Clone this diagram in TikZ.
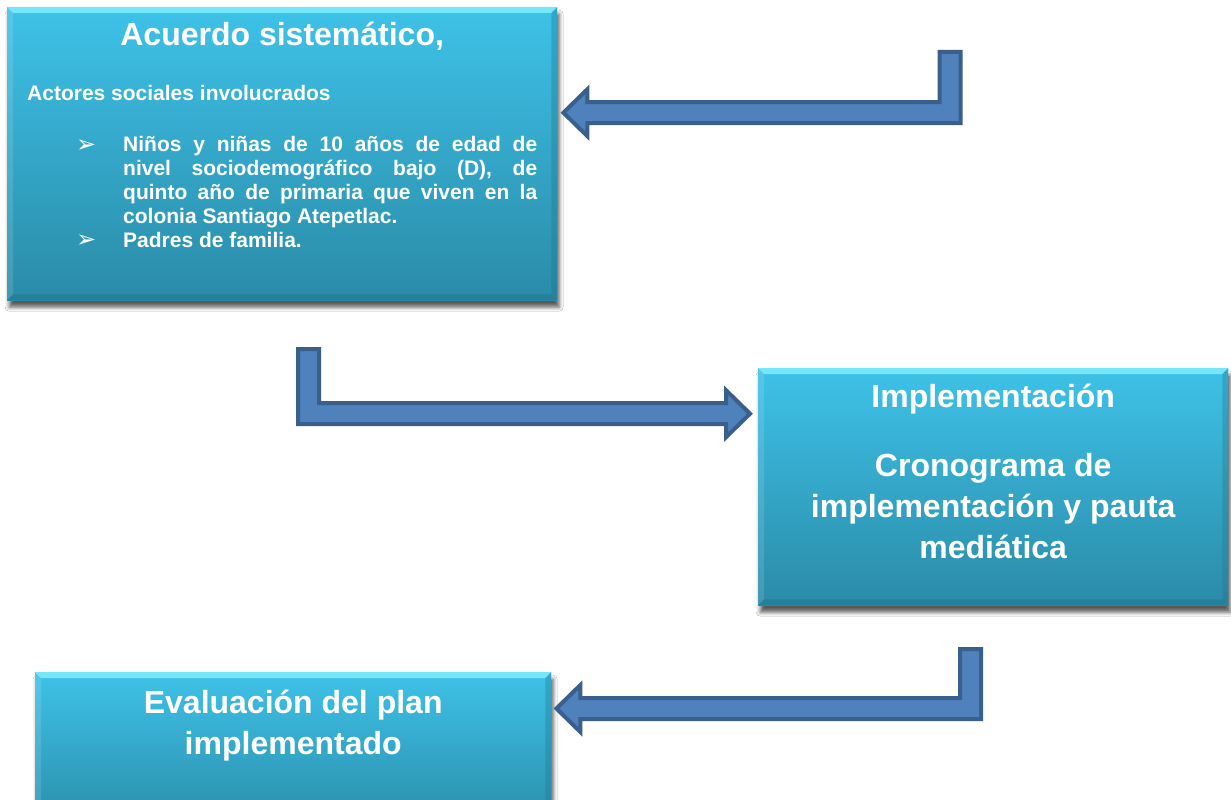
\documentclass[tikz,border=0pt]{standalone}
\usepackage{fontspec}
\setmainfont{Liberation Sans}
\newfontfamily\symbolfont{DejaVu Sans}
\usetikzlibrary{calc,shadows.blur}

\definecolor{boxtop}{HTML}{3EC2E8}
\definecolor{boxbot}{HTML}{2A8BA8}
\definecolor{bevlight}{HTML}{80EEFC}
\definecolor{bevdark}{HTML}{22768F}
\definecolor{arrowfill}{HTML}{4F81BD}
\definecolor{arrowline}{HTML}{3A5F8C}

\tikzset{
  stagebox/.style={rectangle, anchor=north west, inner sep=0pt, top color=boxtop, bottom color=boxbot,
    blur shadow={shadow xshift=2pt, shadow yshift=-7pt, shadow blur radius=4pt, shadow opacity=65}},
  headtext/.style={text=white, font=\fontsize{32}{41}\selectfont\bfseries, inner sep=0pt},
  bodytext/.style={text=white, font=\fontsize{21}{24}\selectfont\bfseries, inner sep=0pt},
  bullettext/.style={text=white, font=\symbolfont\fontsize{24}{24}\selectfont, inner sep=0pt},
  blockarrow/.style={fill=arrowfill, draw=arrowline, line width=4pt, line join=miter},
}

% bevelled edges of a box
\newcommand{\bevel}[1]{%
  \fill[bevlight, opacity=.85] (#1.north west) -- (#1.north east) -- ($(#1.north east)+(-6,6)$) -- ($(#1.north west)+(6,6)$) -- cycle;
  \fill[white, opacity=.12] (#1.north west) -- ($(#1.north west)+(6,6)$) -- ($(#1.south west)+(6,-6)$) -- (#1.south west) -- cycle;
  \fill[bevdark, opacity=.35] (#1.north east) -- (#1.south east) -- ($(#1.south east)+(-6,-6)$) -- ($(#1.north east)+(-6,6)$) -- cycle;
  \fill[bevdark, opacity=.5] (#1.south west) -- (#1.south east) -- ($(#1.south east)+(-6,-6)$) -- ($(#1.south west)+(6,-6)$) -- cycle;
}

% bent block arrow: tail, bend, tip, sign (1 = pointing left, -1 = pointing right)
\newcommand{\shaft}{10.5}
\newcommand{\headw}{23.5}
\newcommand{\headl}{24}
\newcommand{\bentarrow}[4]{%
  \draw[blockarrow] ($(#1)+({#4*\shaft},0)$) -- ($(#2)+({#4*\shaft},\shaft)$) -- ($(#3)+({#4*\headl},\shaft)$)
    -- ($(#3)+({#4*\headl},\headw)$) -- (#3) -- ($(#3)+({#4*\headl},-\headw)$) -- ($(#3)+({#4*\headl},-\shaft)$)
    -- ($(#2)+({-#4*\shaft},-\shaft)$) -- ($(#1)+({-#4*\shaft},0)$) -- cycle;
}

\begin{document}
\begin{tikzpicture}[x=1pt,y=-1pt]
  \useasboundingbox (0,0) rectangle (1231,800);
  \fill[white] (0,0) rectangle (1231,800);
  \clip (0,0) rectangle (1231,800);

  \node[stagebox, minimum width=550pt, minimum height=293pt] (b1) at (7,7) {};
  \node[stagebox, minimum width=470pt, minimum height=237pt] (b2) at (758,368) {};
  \node[stagebox, minimum width=516pt, minimum height=160pt] (b3) at (35,672) {};
  \bevel{b1}
  \bevel{b2}
  \bevel{b3}

  \node[headtext, anchor=base] (t1) at ($(b1.north)+(0,39)$) {Acuerdo sistemático,};
  \node[bodytext, anchor=base west] (t2) at ($(b1.north west)+(20,93)$) {Actores sociales involucrados};
  \node[bullettext, anchor=base west] (k1) at ($(b1.north west)+(69,145)$) {➢};
  \node[bullettext, anchor=base west] (k2) at ($(b1.north west)+(69,240)$) {➢};
  \node[bodytext, anchor=north west, text width=414pt, align=justify] (l1) at ($(b1.north west)+(116,127.2)$)
    {\hyphenpenalty=10000\emergencystretch=3em\strut Niños y niñas de 10 años de edad de\linebreak
     nivel sociodemográfico bajo (D), de\linebreak quinto año de primaria que viven en la\linebreak
     colonia Santiago Atepetlac.\par Padres de familia.};

  \node[headtext, anchor=base] (t3) at ($(b2.north)+(0,39)$) {Implementación};
  \node[headtext, anchor=north, align=center] (t4) at ($(b2.north)+(0,79.3)$)
    {\strut Cronograma de\\implementación y pauta\\mediática};

  \node[headtext, anchor=north, align=center] (t5) at ($(b3.north)+(0,12.3)$)
    {\strut Evaluación del plan\\implementado};

  \coordinate (a1tail) at (950,52);
  \coordinate (a1tip) at ($(b1.east)+(6,-41)$);
  \coordinate (a1bend) at (a1tail |- a1tip);
  \coordinate (a2tail) at (308.5,349);
  \coordinate (a2tip) at ($(b2.west)+(-8,-73)$);
  \coordinate (a2bend) at (a2tail |- a2tip);
  \coordinate (a3tail) at (970.5,649);
  \coordinate (a3tip) at ($(b3.north east)+(5,36.5)$);
  \coordinate (a3bend) at (a3tail |- a3tip);

  \bentarrow{a1tail}{a1bend}{a1tip}{1}
  \bentarrow{a2tail}{a2bend}{a2tip}{-1}
  \bentarrow{a3tail}{a3bend}{a3tip}{1}
\end{tikzpicture}
\end{document}
